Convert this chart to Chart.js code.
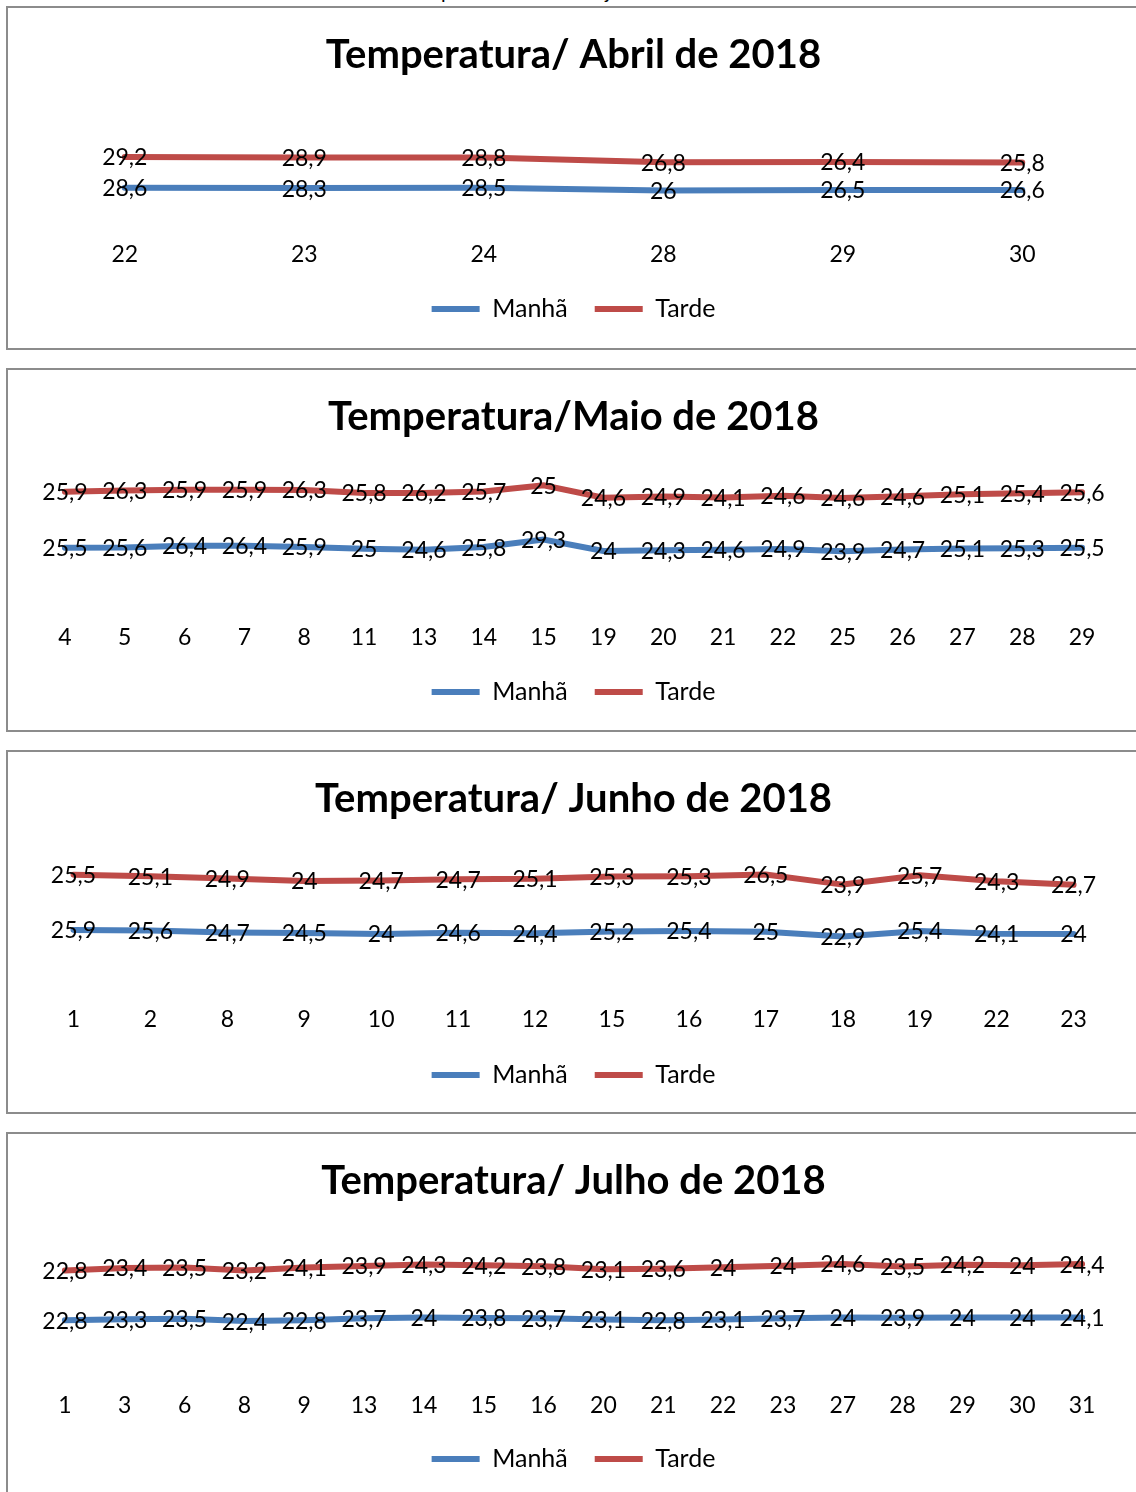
<!DOCTYPE html>
<html lang="pt-BR">
<head>
<meta charset="utf-8">
<title>Temperatura - abril a julho de 2018</title>
<script src="https://cdn.jsdelivr.net/npm/chart.js@4.4.1/dist/chart.umd.min.js"></script>
<style>
  html, body {
    margin: 0;
    padding: 0;
    background: #fff;
    width: 1136px;
    height: 1492px;
    overflow: hidden;
    font-family: Lato, "Noto Sans", sans-serif;
  }
  .legenda-topo {
    position: absolute;
    top: -19px;
    left: 0;
    width: 1136px;
    text-align: center;
    font-size: 20px;
    line-height: 20px;
    color: #000;
  }
  .caixa {
    position: absolute;
    left: 6px;
    width: 1130px;
    border: 2px solid #8c8c8c;
    background: #fff;
  }
  .caixa canvas {
    display: block;
  }
</style>
</head>
<body>
<div class="legenda-topo">Temperatura de abril a julho de 2018.</div>

<div class="caixa" style="top:6px;height:340px"><canvas id="abrilChart" width="1130" height="340"></canvas></div>
<div class="caixa" style="top:368px;height:360px"><canvas id="maioChart" width="1130" height="360"></canvas></div>
<div class="caixa" style="top:750px;height:360px"><canvas id="junhoChart" width="1130" height="360"></canvas></div>
<div class="caixa" style="top:1132px;height:360px"><canvas id="julhoChart" width="1130" height="360"></canvas></div>

<script>
// Abril
const abrilDias = ["22", "23", "24", "28", "29", "30"];
const abrilManha = [28.6, 28.3, 28.5, 26, 26.5, 26.6];
const abrilTarde = [29.2, 28.9, 28.8, 26.8, 26.4, 25.8];

// Maio
const maioDias = ["4", "5", "6", "7", "8", "11", "13", "14", "15", "19", "20", "21", "22", "25", "26", "27", "28", "29"];
const maioManha = [25.5, 25.6, 26.4, 26.4, 25.9, 25, 24.6, 25.8, 29.3, 24, 24.3, 24.6, 24.9, 23.9, 24.7, 25.1, 25.3, 25.5];
const maioTarde = [25.9, 26.3, 25.9, 25.9, 26.3, 25.8, 26.2, 25.7, 25, 24.6, 24.9, 24.1, 24.6, 24.6, 24.6, 25.1, 25.4, 25.6];

// Junho
const junhoDias = ["1", "2", "8", "9", "10", "11", "12", "15", "16", "17", "18", "19", "22", "23"];
const junhoManha = [25.9, 25.6, 24.7, 24.5, 24, 24.6, 24.4, 25.2, 25.4, 25, 22.9, 25.4, 24.1, 24];
const junhoTarde = [25.5, 25.1, 24.9, 24, 24.7, 24.7, 25.1, 25.3, 25.3, 26.5, 23.9, 25.7, 24.3, 22.7];

// Julho
const julhoDias = ["1", "3", "6", "8", "9", "13", "14", "15", "16", "20", "21", "22", "23", "27", "28", "29", "30", "31"];
const julhoManha = [22.8, 23.3, 23.5, 22.4, 22.8, 23.7, 24, 23.8, 23.7, 23.1, 22.8, 23.1, 23.7, 24, 23.9, 24, 24, 24.1];
const julhoTarde = [22.8, 23.4, 23.5, 23.2, 24.1, 23.9, 24.3, 24.2, 23.8, 23.1, 23.6, 24, 24, 24.6, 23.5, 24.2, 24, 24.4];

const corManha = "#4a7ebb";
const corTarde = "#be4b48";
const fonte = "Lato, 'Noto Sans', sans-serif";

// rotulos de dados no centro de cada ponto (virgula decimal)
const rotulosPlugin = {
  id: "rotulos",
  afterDatasetsDraw(chart) {
    const ctx = chart.ctx;
    ctx.save();
    ctx.font = "23px " + fonte;
    ctx.fillStyle = "#000";
    ctx.textAlign = "center";
    ctx.textBaseline = "middle";
    chart.data.datasets.forEach((ds, i) => {
      chart.getDatasetMeta(i).data.forEach((pt, j) => {
        ctx.fillText(String(ds.data[j]).replace(".", ","), pt.x, pt.y + 1);
      });
    });
    ctx.restore();
  },
};

// monta um grafico de linhas empilhadas (Manhã + Tarde)
function criarGrafico(id, titulo, dias, manha, tarde, cfg) {
  const ctx = document.getElementById(id).getContext("2d");
  return new Chart(ctx, {
    type: "line",
    data: {
      labels: dias,
      datasets: [
        {
          label: "Manhã",
          data: manha,
          borderColor: corManha,
          backgroundColor: corManha,
          borderWidth: 6,
          borderCapStyle: "round",
          pointRadius: 0,
          tension: 0,
          fill: false,
        },
        {
          label: "Tarde",
          data: tarde,
          borderColor: corTarde,
          backgroundColor: corTarde,
          borderWidth: 6,
          borderCapStyle: "round",
          pointRadius: 0,
          tension: 0,
          fill: false,
        },
      ],
    },
    options: {
      responsive: false,
      animation: false,
      layout: {
        padding: { left: 27, right: 26, top: 0, bottom: cfg.padBottom },
      },
      scales: {
        x: {
          offset: true,
          grid: { display: false, drawTicks: false },
          border: { display: false },
          ticks: {
            color: "#000",
            padding: cfg.tickPad,
            font: { family: fonte, size: 23 },
            maxRotation: 0,
            autoSkip: false,
          },
          // altura fixa do eixo x (o Chart.js conta o padding duas vezes)
          afterFit: (eixo) => {
            eixo.height = cfg.eixoAltura;
          },
        },
        y: {
          display: false,
          stacked: true,
          min: 0,
          max: cfg.yMax,
        },
      },
      plugins: {
        title: {
          display: true,
          text: titulo,
          color: "#000",
          font: { family: fonte, size: 40, weight: "bold" },
          padding: { top: 23, bottom: cfg.titleBottom },
        },
        legend: {
          position: "bottom",
          labels: {
            color: "#000",
            font: { family: fonte, size: 25 },
            usePointStyle: true,
            pointStyle: "line",
            pointStyleWidth: 48,
            padding: 27,
          },
        },
        tooltip: { enabled: false },
      },
    },
    plugins: [rotulosPlugin],
  });
}

criarGrafico("abrilChart", "Temperatura/ Abril de 2018", abrilDias, abrilManha, abrilTarde,
  { yMax: 70, titleBottom: 65, tickPad: 23, eixoAltura: 51.5, padBottom: 16.5 });
criarGrafico("maioChart", "Temperatura/Maio de 2018", maioDias, maioManha, maioTarde,
  { yMax: 60, titleBottom: 32, tickPad: 21, eixoAltura: 49.5, padBottom: 15.5 });
criarGrafico("junhoChart", "Temperatura/ Junho de 2018", junhoDias, junhoManha, junhoTarde,
  { yMax: 60, titleBottom: 33, tickPad: 20, eixoAltura: 49.5, padBottom: 14.5 });
criarGrafico("julhoChart", "Temperatura/ Julho de 2018", julhoDias, julhoManha, julhoTarde,
  { yMax: 60, titleBottom: 34, tickPad: 22, eixoAltura: 49.5, padBottom: 12.5 });
</script>
</body>
</html>
